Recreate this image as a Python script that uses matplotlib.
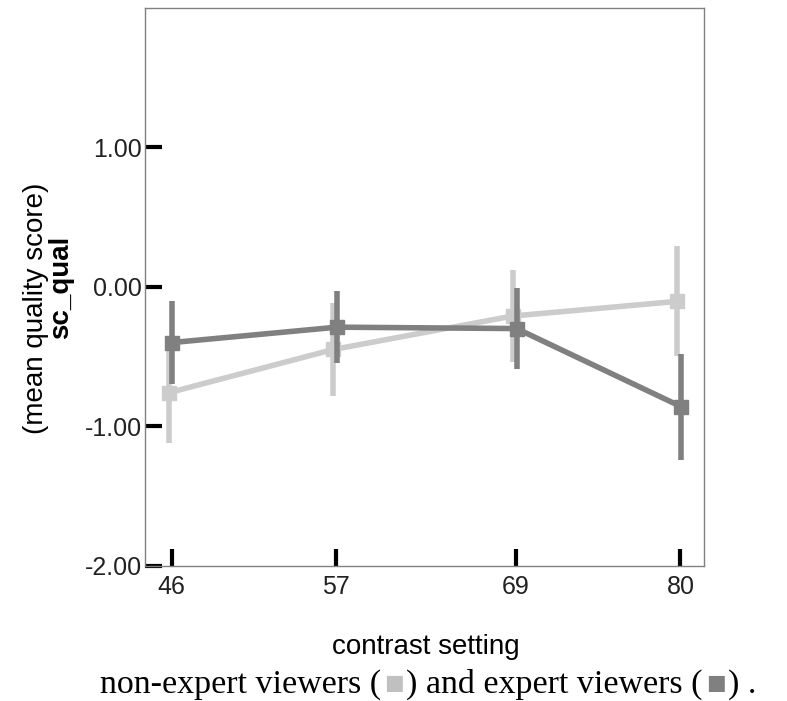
import matplotlib.pyplot as plt

contrast = [46, 57, 69, 80]

# non-expert viewers (light grey)
nonexpert_mean = [-0.76, -0.45, -0.21, -0.105]
nonexpert_err = [0.36, 0.33, 0.33, 0.395]

# expert viewers (dark grey)
expert_mean = [-0.40, -0.29, -0.30, -0.86]
expert_err = [0.30, 0.26, 0.29, 0.38]

light = '#cccccc'
dark = '#808080'

fig = plt.figure(figsize=(7.87, 7.01), dpi=100)
ax = fig.add_axes([0.184, 0.193, 0.711, 0.796])

# small dodge so the two groups do not sit exactly on top of each other
xl = [x - 0.2 for x in contrast]
xd = [x + 0.05 for x in contrast]

ax.errorbar(xl, nonexpert_mean, yerr=nonexpert_err, color=light, lw=4, marker='s',
            ms=10.5, elinewidth=4, capsize=0, zorder=2)
ax.errorbar(xd, expert_mean, yerr=expert_err, color=dark, lw=4, marker='s',
            ms=10.5, elinewidth=4, capsize=0, zorder=3)

ax.set_xlim(44.2, 81.6)
ax.set_ylim(-2.0, 2.0)
ax.set_xticks(contrast)
ax.set_xticklabels([str(c) for c in contrast])
ax.set_yticks([1, 0, -1, -2])
ax.set_yticklabels(['1.00', '0.00', '-1.00', '-2.00'])

for s in ax.spines.values():
    s.set_color('#808080')
    s.set_linewidth(1)

ax.tick_params(axis='both', direction='in', length=12, width=3, color='black',
               labelsize=18, labelcolor='#222222')
ax.tick_params(axis='x', pad=7)
ax.tick_params(axis='y', pad=2)
for t in ax.get_yticklabels() + ax.get_xticklabels():
    t.set_fontfamily('Liberation Sans')

fig.text(0.541, 1 - 647 / 701, 'contrast setting', ha='center', va='center',
         fontsize=20, family='Liberation Sans')
fig.text(61 / 787, 1 - 287 / 701, 'sc_qual', ha='center', va='center', rotation=90,
         fontsize=20, fontweight='bold', family='Liberation Sans')
fig.text(36 / 787, 1 - 308 / 701, '(mean quality score)', ha='center', va='center',
         rotation=90, fontsize=20, family='Liberation Sans')

# caption line with coloured squares
t1 = fig.text(100 / 787, 1 - 693 / 701, 'non-expert viewers (', fontsize=24.5,
              family='Liberation Serif', va='baseline')
t2 = ax.annotate('\u25a0', xy=(1, 0), xycoords=t1, xytext=(2, 5.5),
                 textcoords='offset points', color='#c0c0c0', fontsize=15,
                 family='DejaVu Sans', va='bottom')
t3 = ax.annotate(') and expert viewers (', xy=(1, 0), xycoords=t2, xytext=(2, -5.5),
                 textcoords='offset points', fontsize=24.5,
                 family='Liberation Serif', va='bottom')
t4 = ax.annotate('\u25a0', xy=(1, 0), xycoords=t3, xytext=(2, 5.5),
                 textcoords='offset points', color=dark, fontsize=15,
                 family='DejaVu Sans', va='bottom')
ax.annotate(') .', xy=(1, 0), xycoords=t4, xytext=(2, -5.5),
            textcoords='offset points', fontsize=24.5,
            family='Liberation Serif', va='bottom')

fig.savefig('out.png', dpi=100)
